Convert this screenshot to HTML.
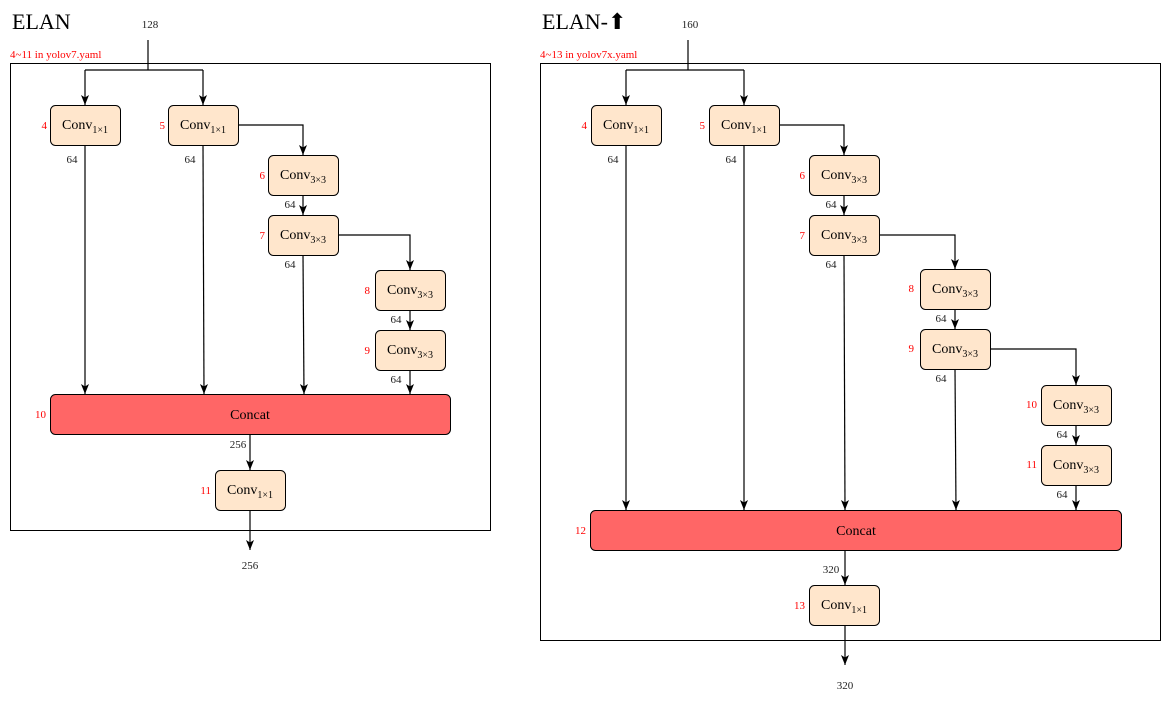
<!DOCTYPE html>
<html><head><meta charset="utf-8"><style>
body{margin:0;background:#fff}
text{font-family:"Liberation Serif",serif}
</style></head><body>
<svg width="1161" height="701" viewBox="0 0 1161 701" xmlns="http://www.w3.org/2000/svg">
<defs><marker id="a" markerWidth="12" markerHeight="12" refX="11" refY="6" orient="auto" markerUnits="userSpaceOnUse"><path d="M1,2 L11,6 L1,10 L3.5,6 Z" fill="#000"/></marker></defs>
<g fill="none" stroke="#000" stroke-width="1">
<rect x="10.5" y="63.5" width="480" height="467"/>
<rect x="540.5" y="63.5" width="620" height="577"/>
</g>
<text x="12" y="29" font-size="22">ELAN</text>
<text x="542" y="29" font-size="22">ELAN-⬆</text>
<g font-size="11" fill="#222" text-anchor="middle">
<text x="150" y="28">128</text><text x="690" y="28">160</text>
</g>
<g font-size="11" fill="#f00">
<text x="10" y="58">4~11 in yolov7.yaml</text>
<text x="540" y="58">4~13 in yolov7x.yaml</text>
</g>
<g fill="none" stroke="#000" stroke-width="1.2">
<path d="M148,40V70"/>
<path d="M85,70H203"/>
<path d="M85,70V105" marker-end="url(#a)"/>
<path d="M203,70V105" marker-end="url(#a)"/>
<path d="M85,145V394" marker-end="url(#a)"/>
<path d="M203,145L204,394" marker-end="url(#a)"/>
<path d="M238,125H303V155" marker-end="url(#a)"/>
<path d="M303,195V215" marker-end="url(#a)"/>
<path d="M303,255L304,394" marker-end="url(#a)"/>
<path d="M338,235H410V270" marker-end="url(#a)"/>
<path d="M410,310V330" marker-end="url(#a)"/>
<path d="M410,370V394" marker-end="url(#a)"/>
<path d="M250,434V470" marker-end="url(#a)"/>
<path d="M250,510V550" marker-end="url(#a)"/>
<path d="M688,40V70"/>
<path d="M626,70H744"/>
<path d="M626,70V105" marker-end="url(#a)"/>
<path d="M744,70V105" marker-end="url(#a)"/>
<path d="M626,145V510" marker-end="url(#a)"/>
<path d="M744,145V510" marker-end="url(#a)"/>
<path d="M779,125H844V155" marker-end="url(#a)"/>
<path d="M844,195V215" marker-end="url(#a)"/>
<path d="M844,255L845,510" marker-end="url(#a)"/>
<path d="M879,235H955V269" marker-end="url(#a)"/>
<path d="M955,309V329" marker-end="url(#a)"/>
<path d="M955,369L956,510" marker-end="url(#a)"/>
<path d="M990,349H1076V385" marker-end="url(#a)"/>
<path d="M1076,425V445" marker-end="url(#a)"/>
<path d="M1076,485V510" marker-end="url(#a)"/>
<path d="M845,550V585" marker-end="url(#a)"/>
<path d="M845,625V665" marker-end="url(#a)"/>
</g>
<g fill="#ffe6cc" stroke="#000" stroke-width="1">
<rect x="50.5" y="105.5" width="70" height="40" rx="5"/>
<rect x="168.5" y="105.5" width="70" height="40" rx="5"/>
<rect x="268.5" y="155.5" width="70" height="40" rx="5"/>
<rect x="268.5" y="215.5" width="70" height="40" rx="5"/>
<rect x="375.5" y="270.5" width="70" height="40" rx="5"/>
<rect x="375.5" y="330.5" width="70" height="40" rx="5"/>
<rect x="215.5" y="470.5" width="70" height="40" rx="5"/>
<rect x="591.5" y="105.5" width="70" height="40" rx="5"/>
<rect x="709.5" y="105.5" width="70" height="40" rx="5"/>
<rect x="809.5" y="155.5" width="70" height="40" rx="5"/>
<rect x="809.5" y="215.5" width="70" height="40" rx="5"/>
<rect x="920.5" y="269.5" width="70" height="40" rx="5"/>
<rect x="920.5" y="329.5" width="70" height="40" rx="5"/>
<rect x="1041.5" y="385.5" width="70" height="40" rx="5"/>
<rect x="1041.5" y="445.5" width="70" height="40" rx="5"/>
<rect x="809.5" y="585.5" width="70" height="40" rx="5"/>
</g>
<g fill="#ff6666" stroke="#000" stroke-width="1">
<rect x="50.5" y="394.5" width="400" height="40" rx="5"/>
<rect x="590.5" y="510.5" width="531" height="40" rx="5"/>
</g>
<g font-size="14" fill="#000" text-anchor="middle">
<text x="250" y="419">Concat</text>
<text x="856" y="535">Concat</text>
<text x="85" y="129">Conv<tspan font-size="10" dy="4">1×1</tspan></text>
<text x="203" y="129">Conv<tspan font-size="10" dy="4">1×1</tspan></text>
<text x="303" y="179">Conv<tspan font-size="10" dy="4">3×3</tspan></text>
<text x="303" y="239">Conv<tspan font-size="10" dy="4">3×3</tspan></text>
<text x="410" y="294">Conv<tspan font-size="10" dy="4">3×3</tspan></text>
<text x="410" y="354">Conv<tspan font-size="10" dy="4">3×3</tspan></text>
<text x="250" y="494">Conv<tspan font-size="10" dy="4">1×1</tspan></text>
<text x="626" y="129">Conv<tspan font-size="10" dy="4">1×1</tspan></text>
<text x="744" y="129">Conv<tspan font-size="10" dy="4">1×1</tspan></text>
<text x="844" y="179">Conv<tspan font-size="10" dy="4">3×3</tspan></text>
<text x="844" y="239">Conv<tspan font-size="10" dy="4">3×3</tspan></text>
<text x="955" y="293">Conv<tspan font-size="10" dy="4">3×3</tspan></text>
<text x="955" y="353">Conv<tspan font-size="10" dy="4">3×3</tspan></text>
<text x="1076" y="409">Conv<tspan font-size="10" dy="4">3×3</tspan></text>
<text x="1076" y="469">Conv<tspan font-size="10" dy="4">3×3</tspan></text>
<text x="844" y="609">Conv<tspan font-size="10" dy="4">1×1</tspan></text>
</g>
<g font-size="11" fill="#f00" text-anchor="end">
<text x="47" y="129">4</text><text x="165" y="129">5</text><text x="265" y="179">6</text><text x="265" y="239">7</text>
<text x="370" y="294">8</text><text x="370" y="354">9</text><text x="46" y="418">10</text><text x="211" y="494">11</text>
<text x="587" y="129">4</text><text x="705" y="129">5</text><text x="805" y="179">6</text><text x="805" y="239">7</text>
<text x="914" y="292">8</text><text x="914" y="352">9</text><text x="1037" y="408">10</text><text x="1037" y="468">11</text>
<text x="586" y="534">12</text><text x="805" y="609">13</text>
</g>
<g font-size="11" fill="#222" text-anchor="middle">
<text x="72" y="163">64</text><text x="190" y="163">64</text><text x="290" y="208">64</text><text x="290" y="268">64</text>
<text x="396" y="323">64</text><text x="396" y="383">64</text><text x="238" y="448">256</text><text x="250" y="569">256</text>
<text x="613" y="163">64</text><text x="731" y="163">64</text><text x="831" y="208">64</text><text x="831" y="268">64</text>
<text x="941" y="322">64</text><text x="941" y="382">64</text><text x="1062" y="438">64</text><text x="1062" y="498">64</text>
<text x="831" y="573">320</text><text x="845" y="689">320</text>
</g>
</svg>
</body></html>
